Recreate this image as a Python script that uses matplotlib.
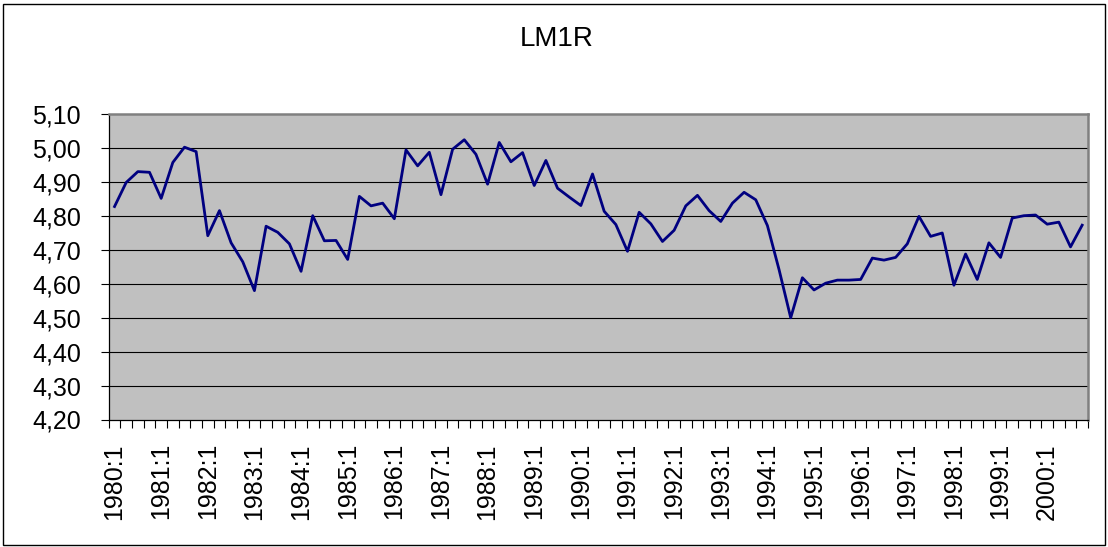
import numpy as np
import matplotlib
matplotlib.use("Agg")
import matplotlib.pyplot as plt
from matplotlib.patches import Rectangle
from matplotlib.ticker import FixedLocator, FuncFormatter

plt.rcParams['font.family'] = ['Liberation Sans', 'DejaVu Sans']

# quarterly data 1980:1 - 2000:4
years = list(range(1980, 2001))
quarters = [f"{y}:{q}" for y in years for q in (1, 2, 3, 4)]
lm1r = [4.828, 4.899, 4.931, 4.929, 4.852, 4.958, 5.003, 4.990,
        4.742, 4.816, 4.721, 4.665, 4.580, 4.770, 4.752, 4.718,
        4.637, 4.801, 4.727, 4.728, 4.672, 4.858, 4.830, 4.838,
        4.792, 4.995, 4.948, 4.988, 4.863, 4.997, 5.025, 4.982,
        4.894, 5.017, 4.960, 4.987, 4.890, 4.964, 4.882, 4.856,
        4.831, 4.924, 4.814, 4.775, 4.696, 4.811, 4.777, 4.725,
        4.758, 4.830, 4.861, 4.816, 4.784, 4.838, 4.870, 4.848,
        4.772, 4.642, 4.500, 4.618, 4.582, 4.602, 4.611, 4.611,
        4.613, 4.676, 4.670, 4.678, 4.718, 4.799, 4.740, 4.750,
        4.596, 4.688, 4.613, 4.721, 4.678, 4.794, 4.801, 4.803,
        4.776, 4.782, 4.709, 4.773]
yticks = [4.20, 4.30, 4.40, 4.50, 4.60, 4.70, 4.80, 4.90, 5.00, 5.10]

fig = plt.figure(figsize=(11.08, 5.47), dpi=100)
ax = fig.add_axes([108.7 / 1108, 1 - 419.5 / 547, (1088 - 108.7) / 1108, (419.5 - 114.3) / 547])

x = np.arange(len(lm1r))
ax.set_facecolor('#C0C0C0')
ax.plot(x, lm1r, color='#000080', lw=2.0, zorder=3)

ax.set_xlim(-0.5, len(lm1r) - 0.5)
ax.set_ylim(4.20, 5.10)
ax.set_yticks(yticks)
ax.yaxis.set_major_formatter(FuncFormatter(lambda v, p: f"{v:.2f}".replace('.', ',')))
for v in yticks[1:-1]:
    ax.axhline(v, color='black', lw=0.8, zorder=1)

lab_pos = x[::4]
ax.set_xticks(lab_pos)
ax.set_xticklabels([quarters[i] for i in lab_pos], rotation=90)
ax.xaxis.set_minor_locator(FixedLocator(np.arange(-0.5, len(lm1r), 1)))
ax.tick_params(axis='x', which='major', length=0, pad=17, labelsize=18)
ax.tick_params(axis='x', which='minor', length=6, width=0.8, direction='out')
ax.tick_params(axis='y', length=6, width=0.8, pad=14, labelsize=18)

for s in ('top', 'right'):
    ax.spines[s].set_color('#808080')
    ax.spines[s].set_linewidth(1.8)
for s in ('left', 'bottom'):
    ax.spines[s].set_color('black')
    ax.spines[s].set_linewidth(0.9)

fig.text(0.502, 1 - 46 / 547, 'LM1R', ha='center', va='baseline', fontsize=20)
fig.patches.append(Rectangle((3 / 1108, 2 / 547), 1102 / 1108, 541 / 547,
                             transform=fig.transFigure, fill=False,
                             edgecolor='black', lw=1))

fig.savefig('out.png', dpi=100)
